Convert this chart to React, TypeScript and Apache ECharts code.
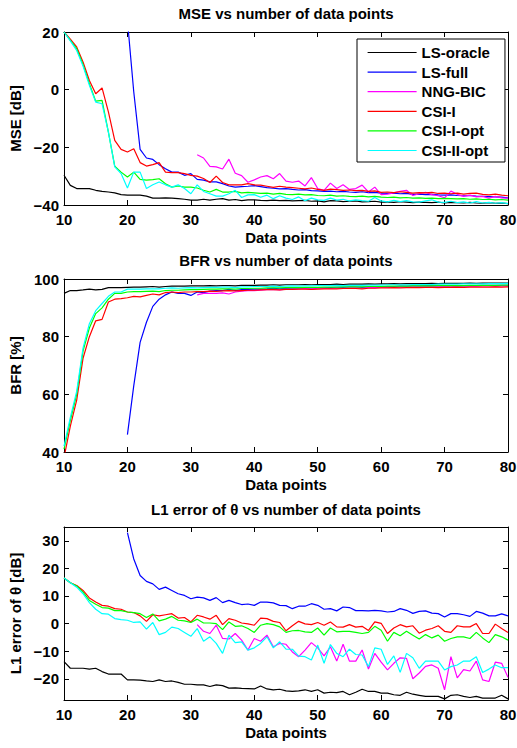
import React, { useEffect, useRef } from "react";
import * as echarts from "echarts";

const FONT = '"Liberation Sans", Arial, Helvetica, sans-serif';

const dataPoints = [
  10, 11, 12, 13, 14, 15, 16, 17, 18, 19, 20, 21, 22, 23, 24, 25, 26, 27, 28, 29,
  30, 31, 32, 33, 34, 35, 36, 37, 38, 39, 40, 41, 42, 43, 44, 45, 46, 47, 48, 49,
  50, 51, 52, 53, 54, 55, 56, 57, 58, 59, 60, 61, 62, 63, 64, 65, 66, 67, 68, 69,
  70, 71, 72, 73, 74, 75, 76, 77, 78, 79, 80,
];

const seriesNames = ["LS-oracle", "LS-full", "NNG-BIC", "CSI-I", "CSI-I-opt", "CSI-II-opt"];
const seriesColors = ["#000000", "#0000ff", "#ff00ff", "#ff0000", "#00ff00", "#00ffff"];

const N10 = [null, null, null, null, null, null, null, null, null, null];
const N21 = [...N10, ...N10, null];

// ---------- MSE [dB] ----------
const mseOracle = [
  -29.7, -33.2, -34.3, -34.3, -34.3, -34.9, -35.3, -35.5, -35.8, -36.4,
  -36.6, -36.6, -36.6, -36.9, -37.6, -37.6, -37.5, -37.6, -37.8, -38.0,
  -38.3, -38.3, -38.0, -38.3, -38.0, -37.8, -38.3, -38.1, -38.5, -38.2,
  -38.2, -38.4, -38.5, -38.3, -38.5, -38.4, -38.6, -38.5, -38.4, -38.7,
  -38.6, -38.9, -38.5, -38.6, -38.8, -38.7, -38.6, -38.9, -38.8, -38.7,
  -39.0, -38.9, -39.1, -38.8, -39.0, -39.2, -39.0, -39.1, -39.2, -39.0,
  -39.3, -39.1, -39.2, -39.3, -39.1, -39.3, -39.4, -39.2, -39.4, -39.3, -39.5,
];
const mseFull = [
  ...N10,
  24, -0.8, -20.7, -23.7, -24.2, -26.0, -27.4, -28.6, -28.6, -29.7,
  -29.1, -31.1, -31.4, -32.0, -32.0, -32.6, -33.4, -33.8, -33.6, -33.5,
  -33.3, -33.6, -34.0, -34.2, -34.4, -34.3, -34.6, -34.8, -34.7, -35.0,
  -35.1, -35.3, -35.2, -35.4, -35.3, -35.5, -35.6, -35.4, -35.7, -35.6,
  -35.9, -36.0, -35.9, -36.1, -36.0, -36.3, -36.2, -36.4, -36.3, -36.5,
  -36.6, -36.5, -36.7, -36.8, -36.7, -36.9, -37.0, -37.1, -37.2, -37.3, -37.5,
];
const mseNng = [
  ...N21,
  -22.6, -23.7, -26.6, -26.8, -27.5, -24.1, -29.0, -29.8, -32.1,
  -31.3, -30.3, -29.8, -30.9, -29.1, -31.7, -32.1, -31.7, -33.4, -30.5,
  -34.3, -34.9, -32.4, -34.3, -33.0, -34.6, -34.3, -33.1, -35.5, -33.8,
  -36.4, -36.2, -35.8, -35.3, -34.9, -36.7, -36.1, -35.6, -36.4, -36.8,
  -37.5, -35.2, -36.3, -37.0, -36.6, -37.2, -37.0, -37.6, -37.0, -37.5, -37.6,
];
const mseCsi1 = [
  20, 17.5, 14.8, 9.6, 3.2, -1.4, 0.6, -7.7, -17.6, -20.7,
  -21.6, -20.5, -25.3, -26.5, -26.0, -25.3, -28.6, -28.8, -28.8, -29.1,
  -29.7, -30.0, -30.8, -32.2, -30.0, -32.2, -33.0, -33.0, -33.0, -32.6,
  -33.0, -33.1, -33.5, -33.9, -33.5, -33.8, -34.0, -34.2, -34.4, -34.1,
  -34.6, -34.9, -34.5, -34.7, -34.9, -34.8, -35.0, -34.9, -35.3, -35.1,
  -35.6, -35.5, -35.7, -35.4, -35.6, -35.9, -35.7, -35.8, -35.6, -36.0,
  -35.9, -36.1, -35.9, -36.2, -36.0, -35.9, -36.3, -36.5, -36.2, -36.6, -36.8,
];
const mseCsi1Opt = [
  20, 17.1, 14.2, 8.7, 2.1, -4.0, -3.7, -14.7, -26.5, -28.6,
  -30.3, -28.6, -31.1, -31.4, -31.2, -30.9, -32.6, -33.8, -33.4, -33.8,
  -33.8, -34.1, -34.9, -35.5, -34.6, -35.5, -35.5, -35.3, -35.8, -35.6,
  -35.8, -36.0, -35.9, -36.2, -36.0, -36.3, -36.4, -36.2, -36.5, -36.4,
  -36.7, -36.8, -36.6, -36.9, -36.8, -37.0, -37.1, -36.9, -37.2, -37.0,
  -37.3, -37.4, -37.3, -37.5, -37.4, -37.6, -37.5, -37.7, -37.6, -37.8,
  -37.7, -37.8, -37.9, -37.8, -38.0, -37.9, -38.1, -38.0, -38.2, -38.1, -38.3,
];
const mseCsi2Opt = [
  20, 16.9, 13.6, 8.2, 1.5, -4.3, -4.9, -14.7, -26.8, -29.1,
  -34.1, -28.6, -28.6, -34.3, -33.0, -32.0, -33.0, -33.8, -33.0, -34.3,
  -36.1, -33.0, -35.3, -36.1, -36.9, -36.9, -36.1, -34.9, -37.4, -36.5,
  -36.4, -37.3, -36.6, -37.8, -36.8, -37.6, -38.1, -37.2, -38.5, -37.6,
  -38.2, -38.4, -37.6, -38.3, -38.0, -38.6, -38.2, -38.5, -38.7, -37.4,
  -38.6, -38.9, -38.4, -38.8, -38.5, -38.9, -39.0, -38.6, -38.2, -39.0,
  -39.1, -38.7, -39.2, -38.9, -39.3, -38.8, -39.3, -39.1, -39.4, -39.2, -39.5,
];

// ---------- BFR [%] ----------
const bfrOracle = [
  95.0, 96.0, 96.0, 96.2, 96.5, 96.2, 96.4, 97.0, 97.0, 97.0,
  97.1, 97.2, 97.2, 97.3, 97.4, 97.2, 97.4, 97.5, 97.5, 97.5,
  97.6, 97.6, 97.6, 97.7, 97.6, 97.7, 97.7, 97.6, 97.8, 97.8,
  97.8, 97.9, 97.9, 98.0, 97.9, 98.0, 98.0, 98.0, 98.1, 98.0,
  98.1, 98.1, 98.1, 98.2, 98.1, 98.2, 98.2, 98.2, 98.3, 98.2,
  98.3, 98.3, 98.4, 98.3, 98.4, 98.4, 98.4, 98.4, 98.5, 98.4,
  98.5, 98.5, 98.5, 98.5, 98.6, 98.5, 98.6, 98.6, 98.6, 98.6, 98.6,
];
const bfrFull = [
  ...N10,
  46, 63, 78, 85, 90.5, 93, 94.5, 95.5, 95.0, 95.0,
  94.3, 95.5, 95.3, 95.8, 96.0, 96.0, 96.4, 96.0, 96.3, 96.4,
  96.5, 96.5, 96.6, 96.8, 96.6, 96.7, 96.8, 96.8, 96.9, 96.9,
  97.0, 97.0, 97.0, 97.1, 97.1, 97.2, 97.2, 97.1, 97.2, 97.3,
  97.4, 97.4, 97.4, 97.5, 97.5, 97.5, 97.5, 97.6, 97.6, 97.6,
  97.7, 97.7, 97.6, 97.7, 97.7, 97.7, 97.8, 97.8, 97.8, 97.8, 97.8,
];
const bfrNng = [
  ...N21,
  94.5, 95.0, 95.0, 95.0, 95.2, 94.8, 95.5, 95.8, 96.0,
  96.0, 96.1, 96.3, 96.4, 96.2, 96.5, 96.5, 96.6, 96.7, 96.5,
  96.8, 96.9, 96.7, 96.9, 96.8, 97.0, 97.0, 96.8, 97.1, 97.0,
  97.2, 97.2, 97.2, 97.3, 97.2, 97.4, 97.3, 97.3, 97.4, 97.4,
  97.5, 97.3, 97.5, 97.5, 97.5, 97.5, 97.6, 97.6, 97.5, 97.6, 97.6,
];
const bfrCsi1 = [
  38, 49, 58, 72.5, 80, 85.5, 86, 92, 93, 93.2,
  93.5, 94, 93.8, 94.3, 94.8, 94.5, 95.3, 95.5, 95.3, 95.5,
  95.5, 95.6, 95.6, 95.8, 95.7, 95.9, 96.0, 95.9, 96.0, 96.1,
  96.1, 96.2, 96.3, 96.3, 96.2, 96.4, 96.4, 96.5, 96.5, 96.4,
  96.5, 96.6, 96.6, 96.6, 96.7, 96.7, 96.7, 96.6, 96.8, 96.8,
  96.9, 96.9, 97.0, 96.9, 97.0, 97.0, 97.0, 97.1, 97.1, 97.0,
  97.1, 97.1, 97.2, 97.1, 97.2, 97.2, 97.2, 97.2, 97.3, 97.2, 97.3,
];
const bfrCsi1Opt = [
  41, 51, 60, 75, 83, 88, 90, 93, 95, 95,
  95.5, 95.6, 95.6, 95.7, 95.8, 95.6, 96.0, 96.1, 96.1, 96.2,
  96.3, 96.3, 96.4, 96.5, 96.5, 96.6, 96.6, 96.5, 96.7, 96.7,
  96.8, 96.8, 96.9, 96.9, 96.9, 97.0, 97.0, 97.0, 97.1, 97.1,
  97.1, 97.2, 97.2, 97.2, 97.3, 97.3, 97.3, 97.3, 97.4, 97.4,
  97.4, 97.5, 97.5, 97.5, 97.5, 97.6, 97.6, 97.6, 97.6, 97.7,
  97.7, 97.7, 97.7, 97.7, 97.8, 97.8, 97.8, 97.8, 97.8, 97.9, 97.9,
];
const bfrCsi2Opt = [
  42, 52, 61, 76, 84.5, 89, 91.5, 94, 95.5, 95.5,
  96.5, 96.5, 96.5, 96.6, 96.6, 96.6, 96.8, 96.9, 96.8, 96.9,
  97.0, 96.9, 97.0, 97.1, 97.1, 97.2, 97.2, 97.0, 97.3, 97.3,
  97.4, 97.4, 97.4, 97.5, 97.4, 97.5, 97.6, 97.5, 97.6, 97.6,
  97.7, 97.7, 97.7, 97.8, 97.7, 97.8, 97.8, 97.8, 97.9, 97.9,
  97.9, 98.0, 98.0, 98.0, 98.0, 98.1, 98.1, 98.1, 98.1, 98.2,
  98.2, 98.2, 98.2, 98.3, 98.3, 98.3, 98.3, 98.4, 98.4, 98.4, 98.5,
];

// ---------- L1 error of theta [dB] ----------
const l1Oracle = [
  -13.8, -16.2, -16.2, -16.2, -16.5, -16.2, -17.4, -18.3, -18.3, -18.3,
  -20.4, -20.4, -20.5, -20.8, -21.0, -20.4, -21.0, -20.8, -21.3, -22.0,
  -22.0, -22.2, -22.2, -22.8, -22.2, -22.5, -23.4, -23.3, -23.5, -23.6,
  -23.7, -22.6, -23.7, -24.0, -23.8, -24.4, -24.6, -24.4, -24.0, -24.6,
  -24.0, -25.2, -24.9, -25.0, -24.6, -25.8, -24.9, -23.8, -24.6, -24.6,
  -25.2, -25.2, -25.8, -26.0, -24.9, -25.6, -26.0, -26.4, -26.4, -26.4,
  -27.3, -26.0, -25.8, -26.4, -26.8, -26.4, -27.0, -27.0, -27.0, -26.0, -27.3,
];
const l1Full = [
  ...N10,
  33, 23.4, 17.4, 15.3, 14.4, 12.4, 13.2, 12.0, 10.8, 10.2,
  9.0, 9.6, 9.3, 8.4, 9.4, 7.6, 8.4, 7.6, 6.9, 7.1,
  6.6, 7.8, 7.8, 7.5, 6.6, 6.5, 5.4, 6.3, 6.3, 7.2,
  6.6, 5.2, 5.4, 4.6, 6.0, 5.8, 4.7, 4.7, 4.6, 4.8,
  4.6, 4.2, 4.4, 5.4, 4.8, 3.7, 4.4, 4.6, 3.8, 3.6,
  2.4, 3.6, 3.6, 3.2, 2.6, 4.4, 3.8, 2.8, 2.8, 3.5, 2.8,
];
const l1Nng = [
  ...N21,
  -0.4, -2.8, -3.6, -0.6, -5.4, -5.6, -3.6, -6.0, -9.6,
  -5.4, -6.4, -4.2, -8.4, -7.2, -7.5, -10.3, -12.0, -9.6, -6.9,
  -8.8, -11.7, -8.4, -13.6, -7.5, -13.6, -13.6, -9.6, -16.5, -10.8,
  -14.0, -16.8, -14.4, -12.4, -12.6, -20.0, -17.9, -15.5, -15.0, -16.2,
  -24.0, -12.0, -19.7, -16.7, -17.2, -13.6, -20.4, -21.0, -14.0, -14.4, -19.5,
];
const l1Csi1 = [
  16.5, 14.8, 13.8, 12.0, 9.3, 7.8, 6.6, 6.3, 5.4, 5.2,
  4.2, 4.0, 2.8, 0.8, 3.2, 2.8, 3.2, 3.6, 2.0, 2.2,
  0.6, 3.0, 2.4, 1.6, 3.0, -0.4, 1.8, 1.2, 0.2, -0.1,
  -0.6, 2.0, 1.8, 0.8, 0.4, -2.6, -0.8, 0.8, -0.1, -0.4,
  0.4, -0.6, 0.6, -1.2, -1.3, -0.4, -1.3, -1.0, -2.5, 0.6,
  0.1, -3.6, -1.6, -0.4, -1.2, -0.8, -3.5, -2.4, -1.8, -0.8,
  -2.8, -3.2, -0.8, -1.2, -1.2, 0.0, -3.6, -3.6, -0.2, -1.8, -3.2,
];
const l1Csi1Opt = [
  16.5, 14.8, 13.6, 11.4, 8.4, 7.0, 5.8, 5.6, 4.7, 4.7,
  4.2, 4.0, 3.6, 2.2, 3.5, 1.0, 1.6, 2.6, 1.2, 1.0,
  0.4, 1.6, 0.2, 0.2, 0.0, -2.2, 0.6, -1.0, -0.8, -1.8,
  -3.2, -0.6, 0.0, -0.4, -1.2, -3.2, -2.6, -2.5, -3.0, -3.2,
  -1.6, -4.2, -1.6, -3.0, -2.8, -2.8, -3.2, -3.6, -3.2, -1.0,
  -2.4, -6.4, -3.2, -4.4, -2.8, -4.2, -5.6, -4.0, -5.2, -4.2,
  -6.4, -5.4, -4.8, -4.8, -5.4, -3.2, -5.2, -6.9, -4.0, -4.8, -6.0,
];
const l1Csi2Opt = [
  16.5, 14.8, 13.2, 10.8, 7.6, 5.2, 3.6, 3.4, 1.8, 1.4,
  1.2, 0.4, 0.6, -2.0, 0.4, -4.0, -3.2, -1.3, -1.8, -3.2,
  -4.6, -1.8, -6.4, -4.8, -7.2, -10.8, -4.2, -6.9, -6.6, -9.6,
  -8.8, -7.2, -4.8, -8.8, -6.6, -9.3, -9.3, -11.8, -12.0, -13.2,
  -7.8, -14.4, -7.6, -10.8, -12.0, -9.3, -11.2, -11.4, -15.6, -8.8,
  -9.3, -14.8, -11.7, -17.7, -10.8, -12.4, -16.2, -13.6, -13.6, -13.6,
  -16.8, -15.6, -15.0, -13.6, -13.6, -12.0, -17.7, -16.5, -15.0, -16.0, -16.0,
];

const mseTicks = [-40, -20, 0, 20];
const bfrTicks = [40, 60, 80, 100];
const l1Ticks = [-20, -10, 0, 10, 20, 30];
const xTicks = [10, 20, 30, 40, 50, 60, 70, 80];

const panels = [
  {
    title: "MSE vs number of data points",
    yName: "MSE [dB]",
    yMin: -40,
    yMax: 20,
    yTicks: mseTicks,
    data: [mseOracle, mseFull, mseNng, mseCsi1, mseCsi1Opt, mseCsi2Opt],
  },
  {
    title: "BFR vs number of data points",
    yName: "BFR [%]",
    yMin: 40,
    yMax: 100,
    yTicks: bfrTicks,
    data: [bfrOracle, bfrFull, bfrNng, bfrCsi1, bfrCsi1Opt, bfrCsi2Opt],
  },
  {
    title: "L1 error of θ vs number of data points",
    yName: "L1 error of θ [dB]",
    yMin: -27.7,
    yMax: 35,
    yTicks: l1Ticks,
    data: [l1Oracle, l1Full, l1Nng, l1Csi1, l1Csi1Opt, l1Csi2Opt],
  },
];

const gridTops = [32, 279, 527];
const titleTops = [6, 253, 502];
const yNameGaps = [38, 38, 41];

const boldText = { fontFamily: FONT, fontWeight: "bold" as const, fontSize: 15, color: "#000" };

function buildOption() {
  const grid: any[] = [];
  const xAxis: any[] = [];
  const yAxis: any[] = [];
  const title: any[] = [];
  const series: any[] = [];

  panels.forEach((p, gi) => {
    grid.push({ left: 64, width: 444, top: gridTops[gi], height: 173, outerBoundsMode: "none", containLabel: false });
    title.push({
      text: p.title,
      left: 286,
      textAlign: "center",
      top: titleTops[gi],
      padding: 0,
      textStyle: { ...boldText },
    });
    const axisLine = { onZero: false, lineStyle: { color: "#000", width: 1 } };
    const tickStyle = { color: "#000", width: 1 };
    xAxis.push({
      gridIndex: gi,
      type: "value",
      position: "bottom",
      min: 10,
      max: 80,
      name: "Data points",
      nameLocation: "middle",
      nameGap: 25,
      nameTextStyle: { ...boldText },
      axisLine,
      axisTick: { inside: true, length: 5, lineStyle: tickStyle, customValues: xTicks },
      axisLabel: { ...boldText, margin: 7, customValues: xTicks },
      splitLine: { show: false },
    });
    xAxis.push({
      gridIndex: gi,
      type: "value",
      position: "top",
      min: 10,
      max: 80,
      axisLine,
      axisTick: { inside: true, length: 5, lineStyle: tickStyle, customValues: xTicks },
      axisLabel: { show: false },
      splitLine: { show: false },
    });
    yAxis.push({
      gridIndex: gi,
      type: "value",
      position: "left",
      min: p.yMin,
      max: p.yMax,
      name: p.yName,
      nameLocation: "middle",
      nameGap: yNameGaps[gi],
      nameRotate: 90,
      nameTextStyle: { ...boldText },
      axisLine,
      axisTick: { inside: true, length: 5, lineStyle: tickStyle, customValues: p.yTicks },
      axisLabel: {
        ...boldText,
        margin: 5,
        customValues: p.yTicks,
        formatter: (v: number) => String(v).replace("-", "\u2212"),
      },
      splitLine: { show: false },
    });
    yAxis.push({
      gridIndex: gi,
      type: "value",
      position: "right",
      min: p.yMin,
      max: p.yMax,
      axisLine,
      axisTick: { inside: true, length: 5, lineStyle: tickStyle, customValues: p.yTicks },
      axisLabel: { show: false },
      splitLine: { show: false },
    });

    p.data.forEach((arr, si) => {
      series.push({
        name: seriesNames[si],
        type: "line",
        xAxisIndex: gi * 2,
        yAxisIndex: gi * 2,
        symbol: "none",
        showSymbol: false,
        clip: true,
        connectNulls: false,
        lineStyle: { color: seriesColors[si], width: 1.2 },
        itemStyle: { color: seriesColors[si] },
        data: dataPoints.map((x, i) => [x, arr[i] === null ? null : arr[i]]),
        z: 2 + si,
      });
    });
  });

  return {
    animation: false,
    backgroundColor: "#fff",
    title,
    grid,
    xAxis,
    yAxis,
    series,
    legend: {
      show: true,
      orient: "vertical",
      left: 357,
      top: 39,
      itemWidth: 49,
      itemHeight: 15,
      itemGap: 4.6,
      padding: [6, 15, 4, 10],
      borderColor: "#000",
      borderWidth: 1,
      borderRadius: 0,
      backgroundColor: "#fff",
      selectedMode: false,
      itemStyle: { opacity: 0 },
      lineStyle: { width: 1.2 },
      textStyle: { ...boldText },
      data: seriesNames,
      z: 10,
    },
  };
}

export default function App() {
  const ref = useRef<HTMLDivElement>(null);
  useEffect(() => {
    if (!ref.current) return;
    const chart = echarts.init(ref.current, null, { renderer: "svg" });
    chart.setOption(buildOption() as any);
    return () => chart.dispose();
  }, []);
  return (
    <div
      ref={ref}
      style={{ position: "fixed", left: 0, top: 0, width: 517, height: 748, background: "#fff" }}
    />
  );
}
